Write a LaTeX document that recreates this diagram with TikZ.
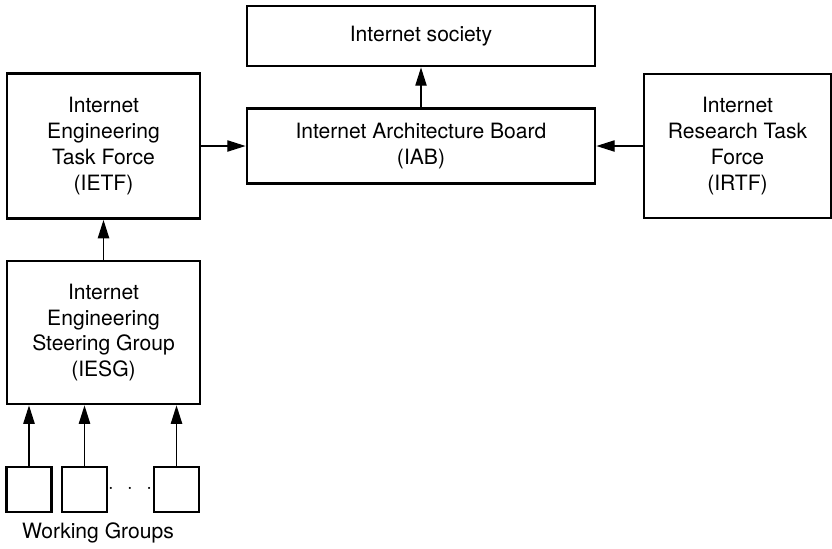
\documentclass[tikz,border=0pt]{standalone}
\usepackage{fontspec}
\setmainfont{TeX Gyre Heros}
\usetikzlibrary{arrows.meta}
\begin{document}
\begin{tikzpicture}[x=0.03cm, y=-0.03cm, >={Triangle[length=0.55cm, width=0.34cm]},
	font=\fontsize{18}{22}\selectfont,
	box/.style={draw, line width=2.4pt, align=center, inner sep=0pt},
	link/.style={->, line width=1pt}]
	
	\useasboundingbox (0,0) rectangle (832,548);
	
	\def\xL{103.5}
	\def\wL{193}
	\def\xC{421}
	\def\wC{348}
	\def\yMid{146}
	\def\yWG{489.5}
	\def\sWG{45}
	
	% ── Top row: society and IAB ────────────────────────────────────────
	\node[box, minimum width=\wC*0.03cm, minimum height=1.8cm] (soc) at (\xC,36) {Internet society};
	\node[box, minimum width=\wC*0.03cm, minimum height=2.25cm] (iab) at (\xC,\yMid)
	{Internet Architecture Board\\(IAB)};
	
	% ── Side boxes ──────────────────────────────────────────────────────
	\node[box, minimum width=\wL*0.03cm, minimum height=4.35cm] (ietf) at (\xL,\yMid)
	{Internet\\Engineering\\Task Force\\(IETF)};
	\node[box, minimum width=5.61cm, minimum height=4.32cm] (irtf) at (737.5,\yMid)
	{Internet\\Research Task\\Force\\(IRTF)};
	\node[box, minimum width=\wL*0.03cm, minimum height=4.29cm] (iesg) at (\xL,332.5)
	{Internet\\Engineering\\Steering Group\\(IESG)};
	
	% ── Working groups ──────────────────────────────────────────────────
	\node[box, minimum size=\sWG*0.03cm] (wgA) at (29,\yWG) {};
	\node[box, minimum size=\sWG*0.03cm] (wgB) at (84.5,\yWG) {};
	\node[box, minimum size=\sWG*0.03cm] (wgC) at (176.5,\yWG) {};
	\node (dots) at (130,489) {$\cdot\;\,\cdot\;\,\cdot$};
	\node (wglabel) at (98,533) {Working Groups};
	
	% ── Links ───────────────────────────────────────────────────────────
	\draw[link] (iab) -- (soc);
	\draw[link] (ietf) -- (iab);
	\draw[link] (irtf) -- (iab);
	\draw[link] (iesg) -- (ietf);
	\foreach \wg in {wgA,wgB,wgC}{
		\draw[link] (\wg.north) -- (\wg.north |- iesg.south);
	}
	
\end{tikzpicture}
\end{document}
